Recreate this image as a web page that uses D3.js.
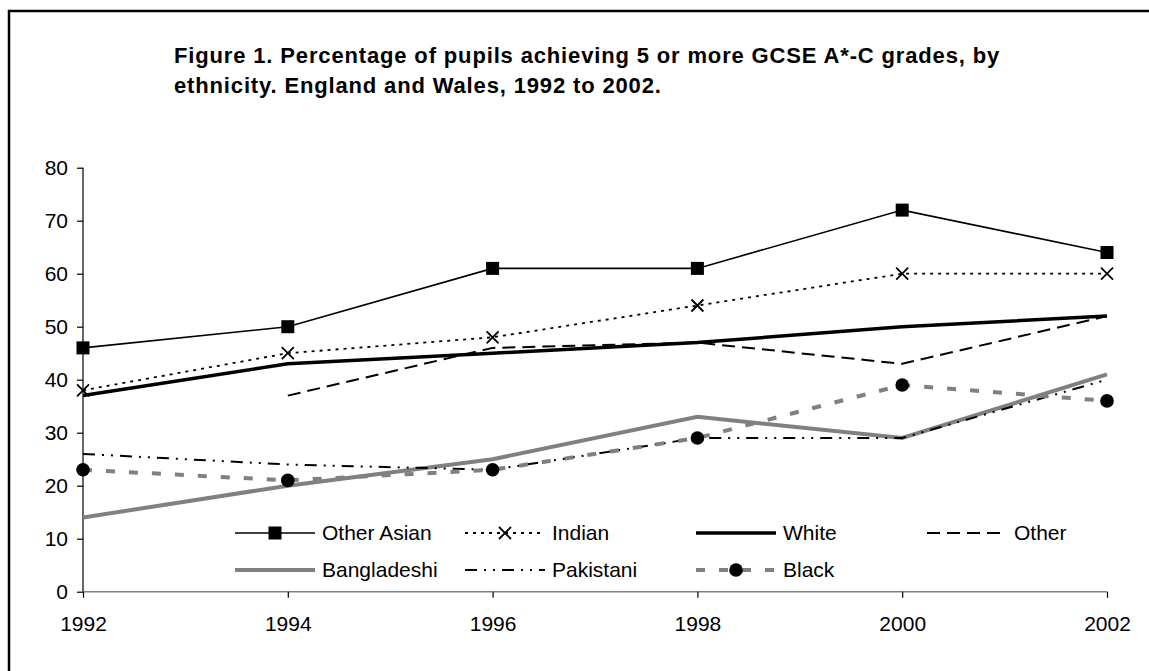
<!DOCTYPE html>
<html>
<head>
<meta charset="utf-8">
<script src="https://cdn.jsdelivr.net/npm/d3@7"></script>
<style>
  html, body { margin: 0; padding: 0; background: #fff; overflow: hidden; }
  svg { display: block; }
  svg text { font-family: Arial, "Liberation Sans", sans-serif; fill: #000; }
</style>
</head>
<body>
<svg width="1149" height="671"></svg>
<script>
"use strict";

// data
var years = [1992, 1994, 1996, 1998, 2000, 2002];
var otherAsian = [46, 50, 61, 61, 72, 64];
var indian = [38, 45, 48, 54, 60, 60];
var white = [37, 43, 45, 47, 50, 52];
var other = [null, 37, 46, 47, 43, 52];
var bangladeshi = [14, 20, 25, 33, 29, 41];
var pakistani = [26, 24, 23, 29, 29, 40];
var black = [23, 21, 23, 29, 39, 36];
var yTicks = [0, 10, 20, 30, 40, 50, 60, 70, 80];
var titleLines = [
  "Figure 1. Percentage of pupils achieving 5 or more GCSE A*-C grades, by",
  "ethnicity. England and Wales, 1992 to 2002."
];

var series = [
  { name: "Other Asian", values: otherAsian, color: "#000", width: 1.6, dash: null, marker: "square" },
  { name: "Indian", values: indian, color: "#000", width: 1.8, dash: "3 5", marker: "cross" },
  { name: "White", values: white, color: "#000", width: 3.5, dash: null, marker: null },
  { name: "Other", values: other, color: "#000", width: 2, dash: "13 7", marker: null },
  { name: "Bangladeshi", values: bangladeshi, color: "#808080", width: 4, dash: null, marker: null },
  { name: "Pakistani", values: pakistani, color: "#000", width: 2, dash: "12 7 2 7 2 7", marker: null },
  { name: "Black", values: black, color: "#808080", width: 4, dash: "9 14", marker: "circle" }
];

var svg = d3.select("svg"),
    width = +svg.attr("width"),
    height = +svg.attr("height");

// frame (only top and left edges show in the crop)
svg.append("path")
  .attr("d", "M9," + (height + 5) + "V11H" + (width + 5))
  .attr("fill", "none").attr("stroke", "#000").attr("stroke-width", 2.5);

var title = svg.append("text")
  .attr("x", 174).attr("y", 63)
  .attr("font-size", 22).attr("font-weight", "bold")
  .attr("letter-spacing", 0.85);
titleLines.forEach(function (t, i) {
  title.append("tspan").attr("x", 174).attr("dy", i ? 30 : 0).text(t);
});

var x = d3.scaleLinear().domain([1992, 2002]).range([83, 1107]);
var y = d3.scaleLinear().domain([0, 80]).range([591.7, 167.7]);

// y axis
var yAxis = svg.append("g").attr("transform", "translate(83,0)")
  .call(d3.axisLeft(y).tickValues(yTicks).tickSize(6).tickPadding(9));
yAxis.select(".domain").attr("stroke", "#000").attr("stroke-width", 1.2).attr("d", "M0," + y(80) + "V" + y(0));
yAxis.selectAll(".tick line").attr("stroke", "#000").attr("stroke-width", 1.2);
yAxis.selectAll(".tick text").attr("font-size", 21).attr("font-family", "Arial, 'Liberation Sans', sans-serif");

// x axis
var xAxis = svg.append("g").attr("transform", "translate(0," + y(0) + ")")
  .call(d3.axisBottom(x).tickValues(years).tickFormat(d3.format("d")).tickSize(6).tickPadding(18));
xAxis.select(".domain").attr("stroke", "#808080").attr("stroke-width", 1.6).attr("d", "M" + x(1992) + ",0H" + x(2002));
xAxis.selectAll(".tick line").attr("stroke", "#000").attr("stroke-width", 1.2);
xAxis.selectAll(".tick text").attr("font-size", 21).attr("font-family", "Arial, 'Liberation Sans', sans-serif");

var line = d3.line()
  .defined(function (d) { return d.v != null; })
  .x(function (d) { return x(d.year); })
  .y(function (d) { return y(d.v); });

function drawMarker(g, type, cx, cy) {
  if (type === "square") {
    g.append("rect").attr("x", cx - 6.5).attr("y", cy - 6.5).attr("width", 13).attr("height", 13).attr("fill", "#000");
  } else if (type === "cross") {
    g.append("path")
      .attr("d", "M" + (cx - 6) + "," + (cy - 6) + "L" + (cx + 6) + "," + (cy + 6) + "M" + (cx - 6) + "," + (cy + 6) + "L" + (cx + 6) + "," + (cy - 6))
      .attr("stroke", "#000").attr("stroke-width", 1.8).attr("fill", "none");
  } else if (type === "circle") {
    g.append("circle").attr("cx", cx).attr("cy", cy).attr("r", 6.8).attr("fill", "#000");
  }
}

var plot = svg.append("g");
series.forEach(function (s) {
  var pts = years.map(function (yr, i) { return { year: yr, v: s.values[i] }; });
  var g = plot.append("g");
  g.append("path")
    .datum(pts)
    .attr("d", line)
    .attr("fill", "none")
    .attr("stroke", s.color)
    .attr("stroke-width", s.width)
    .attr("stroke-dasharray", s.dash);
  if (s.marker) {
    pts.filter(function (d) { return d.v != null; }).forEach(function (d) {
      drawMarker(g, s.marker, x(d.year), y(d.v));
    });
  }
});

// legend
var legendCols = [235, 465, 696, 927],
    legendRows = [533, 570];
var legend = svg.append("g");
series.forEach(function (s, i) {
  var lx = legendCols[i < 4 ? i : i - 4],
      ly = legendRows[i < 4 ? 0 : 1];
  var g = legend.append("g");
  g.append("line")
    .attr("x1", lx).attr("x2", lx + 80).attr("y1", ly).attr("y2", ly)
    .attr("stroke", s.color).attr("stroke-width", s.width)
    .attr("stroke-dasharray", s.dash);
  if (s.marker) drawMarker(g, s.marker, lx + 40, ly);
  g.append("text")
    .attr("x", lx + 87).attr("y", ly)
    .attr("dy", "0.35em")
    .attr("font-size", 21)
    .text(s.name);
});
</script>
</body>
</html>
